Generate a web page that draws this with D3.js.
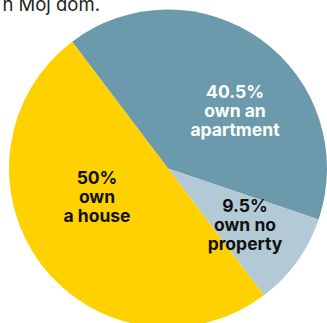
<!DOCTYPE html>
<html>
<head>
<meta charset="utf-8">
<script src="https://cdn.jsdelivr.net/npm/d3@7"></script>
<style>
  html, body { margin: 0; padding: 0; background: #ffffff; overflow: hidden; }
  svg { display: block; }
</style>
</head>
<body>
<svg id="chart" width="327" height="323"></svg>
<script>
// Property ownership shares
const categories = ["apartment", "no property", "house"];
const shares = [40.5, 9.5, 50];
const labelLines = [
  ["40.5%", "own an", "apartment"],
  ["9.5%", "own no", "property"],
  ["50%", "own", "a house"]
];
const sourceNote = "n Moj dom.";

const colors = { apartment: "#6b9aad", "no property": "#b3cad6", house: "#ffd100" };
const textColors = { apartment: "#ffffff", "no property": "#111111", house: "#111111" };
// label anchors (middle line baseline) as offsets from pie centre
const labelOffsets = { apartment: [67, -52], "no property": [77, 62], house: [-71, 34] };

const width = 327, height = 323;
const cx = 168, cy = 168.5, radius = 159;
const startDeg = -37.1;

const svg = d3.select("#chart");

// tail of the source line running off the top edge
svg.append("text")
  .attr("x", 100).attr("y", 10.5)
  .attr("text-anchor", "end")
  .attr("font-family", "Inter, 'Open Sans', sans-serif")
  .attr("font-size", 18.5)
  .attr("fill", "#1e1e1e")
  .text(sourceNote);

const data = categories.map((c, i) => ({ category: c, value: shares[i], lines: labelLines[i] }));

const pie = d3.pie()
  .sort(null)
  .value(d => d.value)
  .startAngle(startDeg * Math.PI / 180)
  .endAngle(startDeg * Math.PI / 180 + 2 * Math.PI);

const arc = d3.arc().innerRadius(0).outerRadius(radius);

const g = svg.append("g").attr("transform", `translate(${cx},${cy})`);
const arcs = pie(data);

g.selectAll("path.slice")
  .data(arcs)
  .join("path")
  .attr("class", "slice")
  .attr("d", arc)
  .attr("fill", d => colors[d.data.category]);

const lineHeight = 19;
const labels = g.selectAll("text.label")
  .data(arcs)
  .join("text")
  .attr("class", "label")
  .attr("text-anchor", "middle")
  .attr("font-family", "Inter, 'Open Sans', sans-serif")
  .attr("font-weight", 700)
  .attr("font-size", 17.5)
  .attr("fill", d => textColors[d.data.category])
  .attr("transform", d => {
    const o = labelOffsets[d.data.category];
    return `translate(${o[0]},${o[1]})`;
  });

labels.selectAll("tspan")
  .data(d => d.data.lines.map((t, i) => ({ t, i })))
  .join("tspan")
  .attr("x", 0)
  .attr("y", d => (d.i - 1) * lineHeight)
  .text(d => d.t);
</script>
</body>
</html>
